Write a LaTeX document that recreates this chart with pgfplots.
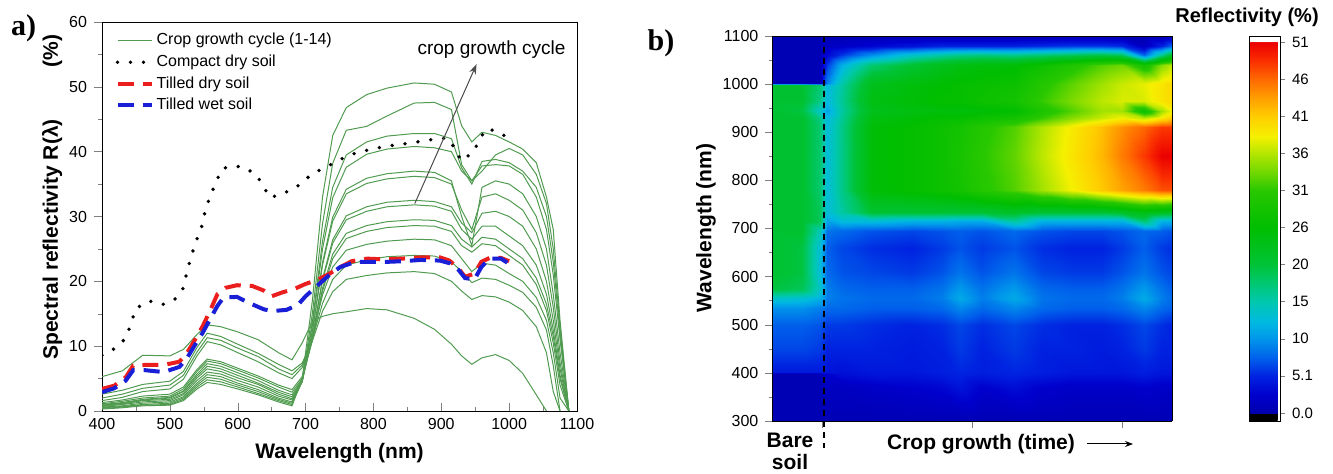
\documentclass[border=0pt]{standalone}
\usepackage{pgfplots}
\pgfplotsset{compat=1.18}
\usepackage{pgfplotstable}
\usepackage{fontspec}
\setmainfont{Liberation Sans}
\newfontfamily\serifbf{Liberation Serif}
\usetikzlibrary{arrows.meta}

\definecolor{cropgreen}{RGB}{80,155,80}
\definecolor{soilred}{RGB}{235,30,30}
\definecolor{soilblue}{RGB}{25,30,215}

% spectra of the 14 crop measurements
\pgfplotstableread{
wl c1 c2 c3 c4 c5 c6 c7 c8 c9 c10 c11 c12 c13 c14
400 5.3 2.6 2.0 1.6 1.3 1.1 1.0 0.9 0.8 0.7 0.6 0.5 0.4 0.3
430 6.2 3.2 2.6 2.1 1.7 1.5 1.3 1.2 1.1 1.0 0.8 0.7 0.6 0.5
460 8.6 4.1 3.5 3.0 2.3 2.0 1.8 1.7 1.6 1.4 1.2 1.0 0.9 0.8
500 8.5 4.6 4.0 3.4 2.6 2.3 2.1 2.0 1.8 1.6 1.4 1.2 1.0 0.9
520 9.5 6.1 5.5 4.9 3.7 3.4 3.1 3.0 2.7 2.5 2.2 2.0 1.8 1.6
540 11.8 9.8 9.1 8.5 6.4 6.1 5.7 5.4 5.1 4.7 4.3 4.0 3.7 3.4
555 13.3 12.0 11.3 10.7 8.0 7.7 7.3 6.9 6.5 6.0 5.6 5.2 4.8 4.4
575 13.0 11.5 10.9 10.2 7.6 7.3 6.9 6.5 6.1 5.7 5.3 4.9 4.5 4.1
600 12.2 10.3 9.7 9.0 6.6 6.3 5.9 5.5 5.1 4.7 4.3 4.0 3.7 3.4
630 11.0 8.9 8.4 7.6 5.4 5.1 4.7 4.3 4.1 3.7 3.3 3.0 2.7 2.5
660 9.0 7.2 6.5 5.9 4.0 3.7 3.2 2.9 2.6 2.3 2.0 1.8 1.6 1.4
680 7.9 6.2 5.6 5.0 3.3 2.9 2.5 2.2 1.9 1.7 1.4 1.2 1.0 0.8
695 10.5 7.4 7.1 6.7 5.3 5.0 4.8 4.6 4.6 4.5 4.6 4.5 4.7 5.0
710 13.8 10.8 11.1 11.5 10.9 10.9 11.3 11.3 12.2 12.3 13.2 13.7 15.0 17.0
725 14.6 15.4 16.6 17.9 18.5 18.9 20.1 20.4 22.5 22.9 25.0 26.2 28.9 33.0
740 15.0 18.4 20.3 22.2 23.5 24.2 25.9 26.4 29.3 29.9 32.9 34.5 38.2 42.5
760 15.3 20.3 22.5 24.8 26.6 27.4 29.5 30.1 33.5 34.2 37.6 39.5 43.3 46.8
790 15.8 20.9 23.3 25.7 27.7 28.6 30.8 31.5 35.1 35.9 39.6 41.5 43.9 48.8
820 15.6 21.3 23.8 26.2 28.3 29.2 31.5 32.2 35.8 36.6 40.4 42.4 45.5 49.8
860 14.3 21.5 24.0 26.5 28.6 29.5 31.8 32.5 36.2 37.0 40.8 42.8 47.5 50.6
890 12.6 21.2 23.9 26.4 28.5 29.4 31.6 32.3 36.0 36.8 40.6 42.8 47.6 50.4
915 10.3 20.0 23.0 25.5 27.7 28.6 30.8 31.5 35.0 35.5 40.0 42.0 46.5 49.2
930 8.5 18.5 21.5 23.5 25.5 26.5 28.0 29.0 31.0 30.0 37.0 37.5 38.0 44.0
945 7.2 17.2 19.8 21.5 24.5 25.3 26.5 27.5 28.0 25.5 35.5 35.0 35.5 41.5
960 8.2 17.8 20.5 22.8 25.8 26.8 28.5 30.5 33.0 34.5 37.8 38.5 37.0 43.0
980 8.7 17.6 20.3 22.5 25.5 26.5 28.5 30.8 33.5 35.5 38.0 38.8 39.5 42.5
1000 7.8 16.8 19.4 21.2 24.0 25.0 27.0 30.0 32.5 35.0 37.8 38.3 40.5 41.5
1020 5.8 15.5 18.3 20.0 22.5 23.5 25.5 28.5 31.0 33.5 36.5 37.0 39.5 40.4
1040 2.5 13.0 16.0 17.5 19.5 20.5 22.5 25.0 27.5 30.0 33.0 34.5 36.5 38.3
1055 0 9.0 12.5 14.0 15.5 16.5 18.0 20.0 22.5 25.0 28.0 30.0 32.0 33.0
1065 nan 3.0 7.0 9.0 10.5 11.5 12.5 14.0 16.0 18.0 21.0 23.0 25.0 28.0
1075 nan 0 0 2.0 4.0 5.0 5.5 6.5 7.5 9.0 11.0 12.0 13.0 14.0
1088 nan nan nan 0 0 0 0 0 0 0 0 0 0 0
}\cropdata

\pgfplotsset{
  colormap={refl}{
    rgb255(0pt)=(0,0,0) rgb255(10.5pt)=(0,0,0)
    rgb255(11pt)=(0,0,175) rgb255(36pt)=(0,0,205) rgb255(62pt)=(0,35,225)
    rgb255(86pt)=(0,95,235) rgb255(113pt)=(0,150,235) rgb255(136pt)=(0,185,225)
    rgb255(164pt)=(0,200,175) rgb255(191pt)=(0,200,110) rgb255(215pt)=(0,195,55)
    rgb255(266pt)=(0,190,0) rgb255(317pt)=(40,200,0) rgb255(341pt)=(110,215,0)
    rgb255(368pt)=(180,230,0) rgb255(391pt)=(245,240,0) rgb255(419pt)=(255,205,0)
    rgb255(446pt)=(255,155,0) rgb255(470pt)=(255,105,0) rgb255(496pt)=(250,45,0)
    rgb255(521pt)=(235,0,0) rgb255(521.5pt)=(255,255,255) rgb255(529.3pt)=(255,255,255)
  },
  /pgf/number format/assume math mode=true,
  /pgf/number format/1000 sep={},
  cropline/.style={cropgreen, line width=0.5pt, forget plot},
}

\begin{document}
\begin{tikzpicture}
\useasboundingbox (0,0) rectangle (666.5pt,-237pt);

\node[anchor=west, font=\serifbf\bfseries\fontsize{15}{15}\selectfont] at (2pt,-14pt) {a)};
\node[font=\serifbf\bfseries\fontsize{15}{15}\selectfont] at (330.5pt,-21.5pt) {b)};

\begin{axis}[
  at={(51pt,-205.5pt)}, anchor=south west,
  scale only axis, width=237.5pt, height=194.5pt,
  xmin=400, xmax=1100, ymin=0, ymax=60,
  xtick={400,500,...,1100}, ytick={0,10,...,60},
  minor x tick num=1, minor y tick num=1,
  xtick align=inside, ytick align=outside,
  xtick pos=left, ytick pos=left,
  major tick length=4pt, minor tick length=2pt,
  tick label style={font=\fontsize{8}{9}\selectfont},
  xlabel={Wavelength (nm)},
  ylabel={Spectral reflectivity R(λ)\hspace{26pt}(\%)},
  xlabel style={font=\bfseries\fontsize{10.5}{12}\selectfont, at={(axis description cs:0.5,0)}, anchor=center, yshift=-21pt},
  ylabel style={font=\bfseries\fontsize{10.5}{12}\selectfont, at={(axis description cs:-0.105,0.55)}, anchor=center},
  unbounded coords=jump,
  legend cell align=left,
  legend style={at={(0.015,0.99)}, anchor=north west, draw=none, fill=none,
    font=\fontsize{8}{9}\selectfont, row sep=0.5pt, nodes={inner sep=1.5pt}},
]
\addplot[cropgreen, line width=0.5pt] table[x=wl, y=c1] {\cropdata};
\addlegendentry{Crop growth cycle (1-14)}
\addplot[cropline] table[x=wl, y=c2] {\cropdata};
\addplot[cropline] table[x=wl, y=c3] {\cropdata};
\addplot[cropline] table[x=wl, y=c4] {\cropdata};
\addplot[cropline] table[x=wl, y=c5] {\cropdata};
\addplot[cropline] table[x=wl, y=c6] {\cropdata};
\addplot[cropline] table[x=wl, y=c7] {\cropdata};
\addplot[cropline] table[x=wl, y=c8] {\cropdata};
\addplot[cropline] table[x=wl, y=c9] {\cropdata};
\addplot[cropline] table[x=wl, y=c10] {\cropdata};
\addplot[cropline] table[x=wl, y=c11] {\cropdata};
\addplot[cropline] table[x=wl, y=c12] {\cropdata};
\addplot[cropline] table[x=wl, y=c13] {\cropdata};
\addplot[cropline] table[x=wl, y=c14] {\cropdata};

\addplot[black, line width=1.9pt, line cap=round, dash pattern=on 0pt off 6.5pt] coordinates {
  (400,8.6) (418,9.6) (435,11.2) (443,13.6) (450,15.8) (469,17.0) (489,16.4) (507,17.2)
  (520,19.0) (525,21.4) (531,23.7) (538,26.0) (547,28.5) (552,30.8) (559,33.1) (568,35.2)
  (576,37.3) (587,37.7) (607,37.7) (627,36.5) (638,34.7) (647,32.9) (666,33.5) (686,34.5)
  (703,36.0) (723,37.3) (745,38.4) (762,39.4) (785,40.1) (807,40.6) (830,41.0) (853,41.3)
  (875,41.7) (895,42.0) (909,42.1) (921,40.4) (929,38.6) (947,39.9) (957,42.0) (966,43.5)
  (981,43.2) (996,42.3) (1000,42.0)
};
\addlegendentry{Compact dry soil}
\addplot[soilred, line width=2pt, dash pattern=on 8pt off 4.5pt] coordinates {
  (400,3.4) (418,3.9) (435,5.2) (446,7.0) (463,7.1) (491,7.1) (514,7.6) (525,8.9)
  (537,11.0) (548,13.0) (559,15.4) (570,18.0) (582,19.0) (599,19.4) (621,19.3) (638,18.6)
  (650,17.7) (666,18.3) (683,18.8) (700,19.6) (717,20.2) (734,21.1) (751,22.2) (768,23.1)
  (791,23.5) (813,23.4) (842,23.5) (870,23.7) (898,23.7) (912,23.2) (926,21.9) (935,20.7)
  (949,21.2) (959,23.0) (971,23.6) (988,23.6) (1000,23.1)
};
\addlegendentry{Tilled dry soil}
\addplot[soilblue, line width=2pt, dash pattern=on 8pt off 4.5pt] coordinates {
  (400,2.9) (418,3.5) (435,4.7) (446,6.3) (463,6.3) (491,6.0) (514,6.8) (525,8.1)
  (537,10.2) (548,12.0) (559,14.1) (570,16.2) (579,17.5) (599,17.6) (616,16.7) (638,15.7)
  (650,15.4) (672,15.6) (689,16.4) (700,17.7) (717,19.3) (734,20.9) (751,22.2) (774,23.0)
  (796,23.0) (819,23.0) (842,23.1) (870,23.3) (898,23.2) (912,22.8) (926,21.7) (935,20.5)
  (949,20.3) (959,22.2) (971,23.5) (988,23.5) (1000,22.7)
};
\addlegendentry{Tilled wet soil}

\draw[gray!60!black, line width=0.5pt, -{Stealth[length=5pt, width=3.5pt]}] (axis cs:861,32) -- (axis cs:952,53.5);
\node[font=\fontsize{9.5}{11}\selectfont] at (axis cs:974,55.8) {crop growth cycle};
\end{axis}

\begin{axis}[
  at={(386pt,-210.5pt)}, anchor=south west,
  scale only axis, width=200pt, height=192.5pt,
  view={0}{90},
  xmin=0, xmax=8, ymin=300, ymax=1100,
  xtick={1,4,7}, xticklabels={},
  ytick={300,400,...,1100}, minor y tick num=1,
  tick align=outside, tick pos=left,
  major tick length=3.3pt, minor tick length=1.7pt,
  tick label style={font=\fontsize{8}{9}\selectfont},
  colormap name=refl,
  point meta min=-1.1, point meta max=51.83,
  colorbar,
  colorbar style={
    at={(parent axis.north east)}, anchor=north west, xshift=30pt, width=15.5pt,
    ytick={0,5.1,10.2,15.3,20.4,25.5,30.6,35.7,40.8,45.9,51},
    yticklabels={0.0,5.1,10,15,20,26,31,36,41,46,51},
    minor y tick num=0,
    ytick pos=right, yticklabel pos=right, tick align=outside,
    major tick length=2.5pt,
    yticklabel style={font=\fontsize{7.5}{9}\selectfont},
  },
  axis on top,
]
\addplot3[surf, shader=interp, mesh/rows=26, mesh/cols=18] coordinates {
(0,300,0.5) (0.6,300,0.5) (0.95,300,0.5) (1.1,300,0.5) (1.4,300,0.5) (2,300,0.5) (2.8,300,0.5) (3.4,300,0.5) (3.76,300,0.5) (4.2,300,0.5) (4.83,300,0.5) (5.4,300,0.5) (6,300,0.5) (6.6,300,0.5) (7,300,0.5) (7.43,300,0.5) (7.8,300,0.5) (8,300,0.5)
(0,370,0.5) (0.6,370,0.5) (0.95,370,0.5) (1.1,370,1.5) (1.4,370,1.5) (2,370,2) (2.8,370,2.5) (3.4,370,3) (3.76,370,4) (4.2,370,2.5) (4.83,370,3.5) (5.4,370,2.5) (6,370,2) (6.6,370,2) (7,370,2) (7.43,370,2.5) (7.8,370,2) (8,370,2)
(0,398,0.5) (0.6,398,0.5) (0.95,398,0.5) (1.1,398,2.5) (1.4,398,3.5) (2,398,4) (2.8,398,4) (3.4,398,4.5) (3.76,398,5) (4.2,398,4.5) (4.83,398,5) (5.4,398,4.5) (6,398,4) (6.6,398,4) (7,398,4) (7.43,398,4.5) (7.8,398,4) (8,398,4)
(0,402,4.5) (0.6,402,4.5) (0.95,402,4.5) (1.1,402,4) (1.4,402,3.7) (2,402,4.2) (2.8,402,4.2) (3.4,402,4.7) (3.76,402,5.2) (4.2,402,4.7) (4.83,402,5.2) (5.4,402,4.7) (6,402,4.2) (6.6,402,4.2) (7,402,4.2) (7.43,402,4.7) (7.8,402,4.2) (8,402,4.2)
(0,450,6.5) (0.6,450,6.5) (0.95,450,6) (1.1,450,5) (1.4,450,5) (2,450,5) (2.8,450,4.5) (3.4,450,5) (3.76,450,6) (4.2,450,5) (4.83,450,6) (5.4,450,5) (6,450,5) (6.6,450,4.5) (7,450,5) (7.43,450,6) (7.8,450,5) (8,450,5)
(0,500,7.5) (0.6,500,7.5) (0.95,500,7) (1.1,500,6) (1.4,500,6) (2,500,5.5) (2.8,500,5) (3.4,500,5.5) (3.76,500,6.5) (4.2,500,5.5) (4.83,500,6.5) (5.4,500,5.5) (6,500,5) (6.6,500,5) (7,500,5.5) (7.43,500,6.5) (7.8,500,5.5) (8,500,5)
(0,535,10) (0.6,535,10) (0.95,535,9) (1.1,535,8) (1.4,535,8) (2,535,7.5) (2.8,535,7.5) (3.4,535,8) (3.76,535,9.5) (4.2,535,8) (4.83,535,9.5) (5.4,535,8) (6,535,7.5) (6.6,535,7.5) (7,535,8) (7.43,535,9.5) (7.8,535,8) (8,535,7.5)
(0,555,14) (0.6,555,13.5) (0.95,555,12) (1.1,555,9) (1.4,555,8.5) (2,555,8) (2.8,555,8) (3.4,555,9) (3.76,555,11.5) (4.2,555,9) (4.83,555,11.5) (5.4,555,8.5) (6,555,8) (6.6,555,8) (7,555,9) (7.43,555,11.5) (7.8,555,9) (8,555,8)
(0,575,20) (0.6,575,19) (0.95,575,14) (1.1,575,9) (1.4,575,8) (2,575,7.5) (2.8,575,7.5) (3.4,575,8.5) (3.76,575,10.5) (4.2,575,8.5) (4.83,575,10.5) (5.4,575,8) (6,575,7.5) (6.6,575,7.5) (7,575,8.5) (7.43,575,10.5) (7.8,575,8.5) (8,575,7.5)
(0,610,21) (0.6,610,20) (0.95,610,13) (1.1,610,8) (1.4,610,7) (2,610,6.5) (2.8,610,6) (3.4,610,7) (3.76,610,8.5) (4.2,610,7) (4.83,610,8.5) (5.4,610,6.5) (6,610,6) (6.6,610,6) (7,610,7) (7.43,610,8.5) (7.8,610,7) (8,610,6.5)
(0,660,21) (0.6,660,20) (0.95,660,13) (1.1,660,7.5) (1.4,660,6.5) (2,660,5.5) (2.8,660,5) (3.4,660,6) (3.76,660,7) (4.2,660,6) (4.83,660,7) (5.4,660,5.5) (6,660,5) (6.6,660,5) (7,660,6) (7.43,660,7.5) (7.8,660,6) (8,660,5.5)
(0,695,21) (0.6,695,21) (0.95,695,15) (1.1,695,8.5) (1.4,695,8) (2,695,7) (2.8,695,6.5) (3.4,695,7) (3.76,695,7.5) (4.2,695,7) (4.83,695,8) (5.4,695,7) (6,695,6.5) (6.6,695,6.5) (7,695,7) (7.43,695,8) (7.8,695,7.5) (8,695,7)
(0,715,21) (0.6,715,21) (0.95,715,19) (1.1,715,11) (1.4,715,13) (2,715,13) (2.8,715,12) (3.4,715,12) (3.76,715,11.5) (4.2,715,11.5) (4.83,715,16) (5.4,715,12) (6,715,12) (6.6,715,12) (7,715,12) (7.43,715,18) (7.8,715,12) (8,715,12)
(0,735,21) (0.6,735,21) (0.95,735,19) (1.1,735,13) (1.4,735,16) (2,735,21) (2.8,735,21) (3.4,735,21) (3.76,735,21) (4.2,735,21) (4.83,735,22) (5.4,735,21) (6,735,21) (6.6,735,21) (7,735,22) (7.43,735,24) (7.8,735,23) (8,735,22)
(0,780,21) (0.6,780,21) (0.95,780,18) (1.1,780,13) (1.4,780,17) (2,780,25) (2.8,780,26) (3.4,780,27) (3.76,780,28) (4.2,780,30) (4.83,780,32) (5.4,780,35) (6,780,38) (6.6,780,41) (7,780,43) (7.43,780,45) (7.8,780,47) (8,780,47)
(0,850,21) (0.6,850,21) (0.95,850,18) (1.1,850,13) (1.4,850,17) (2,850,25) (2.8,850,26) (3.4,850,27) (3.76,850,28.5) (4.2,850,30.5) (4.83,850,32.5) (5.4,850,36) (6,850,39) (6.6,850,42) (7,850,45) (7.43,850,48) (7.8,850,51) (8,850,51)
(0,910,21) (0.6,910,21) (0.95,910,18) (1.1,910,13) (1.4,910,17) (2,910,25) (2.8,910,26) (3.4,910,27) (3.76,910,28) (4.2,910,30) (4.83,910,32) (5.4,910,35.5) (6,910,38.5) (6.6,910,41.5) (7,910,44) (7.43,910,46) (7.8,910,48) (8,910,48)
(0,930,21) (0.6,930,21) (0.95,930,17) (1.1,930,12.5) (1.4,930,16.5) (2,930,24) (2.8,930,25) (3.4,930,26) (3.76,930,26) (4.2,930,27) (4.83,930,28) (5.4,930,31) (6,930,34) (6.6,930,36.5) (7,930,38) (7.43,930,36) (7.8,930,39) (8,930,41)
(0,945,21) (0.6,945,20) (0.95,945,14) (1.1,945,11) (1.4,945,16) (2,945,23) (2.8,945,24) (3.4,945,24.5) (3.76,945,24.5) (4.2,945,25) (4.83,945,25.5) (5.4,945,29) (6,945,32) (6.6,945,35) (7,945,35) (7.43,945,27) (7.8,945,35) (8,945,38)
(0,965,21) (0.6,965,21) (0.95,965,17) (1.1,965,12.5) (1.4,965,16.5) (2,965,24) (2.8,965,25) (3.4,965,26) (3.76,965,26) (4.2,965,27) (4.83,965,28) (5.4,965,31) (6,965,33.5) (6.6,965,36) (7,965,37) (7.43,965,37) (7.8,965,39) (8,965,40)
(0,998,21) (0.6,998,21) (0.95,998,18) (1.1,998,12.5) (1.4,998,16) (2,998,23) (2.8,998,24.5) (3.4,998,25.5) (3.76,998,26) (4.2,998,26.5) (4.83,998,27) (5.4,998,30) (6,998,32.5) (6.6,998,35) (7,998,36.5) (7.43,998,37.5) (7.8,998,39) (8,998,40)
(0,1002,0.5) (0.6,1002,0.5) (0.95,1002,0.5) (1.1,1002,9) (1.4,1002,15.5) (2,1002,22.8) (2.8,1002,24.3) (3.4,1002,25.3) (3.76,1002,25.8) (4.2,1002,26.3) (4.83,1002,26.8) (5.4,1002,29.8) (6,1002,32.3) (6.6,1002,34.8) (7,1002,36.3) (7.43,1002,37.3) (7.8,1002,38.8) (8,1002,39.8)
(0,1040,0.5) (0.6,1040,0.5) (0.95,1040,0.5) (1.1,1040,6) (1.4,1040,12) (2,1040,18) (2.8,1040,21) (3.4,1040,23) (3.76,1040,24) (4.2,1040,24.5) (4.83,1040,25) (5.4,1040,27) (6,1040,29.5) (6.6,1040,32) (7,1040,33) (7.43,1040,28) (7.8,1040,34) (8,1040,36)
(0,1060,0.5) (0.6,1060,0.5) (0.95,1060,0.5) (1.1,1060,3) (1.4,1060,6) (2,1060,10) (2.8,1060,14) (3.4,1060,16) (3.76,1060,17) (4.2,1060,17.5) (4.83,1060,17) (5.4,1060,18) (6,1060,19) (6.6,1060,20) (7,1060,19) (7.43,1060,8) (7.8,1060,17) (8,1060,22)
(0,1080,0.5) (0.6,1080,0.5) (0.95,1080,0.5) (1.1,1080,1.5) (1.4,1080,2) (2,1080,3) (2.8,1080,4) (3.4,1080,5) (3.76,1080,5) (4.2,1080,5) (4.83,1080,5) (5.4,1080,5.5) (6,1080,6) (6.6,1080,6) (7,1080,5.5) (7.43,1080,1.5) (7.8,1080,5) (8,1080,8)
(0,1100,0.5) (0.6,1100,0.5) (0.95,1100,0.5) (1.1,1100,0.5) (1.4,1100,0.5) (2,1100,0.5) (2.8,1100,0.5) (3.4,1100,0.5) (3.76,1100,0.5) (4.2,1100,0.5) (4.83,1100,0.5) (5.4,1100,0.5) (6,1100,0.5) (6.6,1100,0.5) (7,1100,0.5) (7.43,1100,0.5) (7.8,1100,0.5) (8,1100,0.5)
};
\end{axis}

\draw[black, line width=0.7pt, dash pattern=on 3pt off 2.5pt] (412pt,-18pt) -- (412pt,-224pt);
\node[font=\bfseries\fontsize{10.5}{12}\selectfont, rotate=90] at (353pt,-114pt) {Wavelength (nm)};
\node[font=\bfseries\fontsize{10}{12}\selectfont] at (623.5pt,-8.5pt) {Reflectivity (\%)};
\node[font=\bfseries\fontsize{10.5}{12}\selectfont] at (395pt,-220pt) {Bare};
\node[font=\bfseries\fontsize{10.5}{12}\selectfont] at (395pt,-231pt) {soil};
\node[font=\bfseries\fontsize{10.5}{12}\selectfont] at (490.5pt,-222pt) {Crop growth (time)};
\draw[black, line width=0.5pt, -{Stealth[length=4pt, width=3pt]}] (543.5pt,-222pt) -- (566.5pt,-222pt);
\end{tikzpicture}
\end{document}
